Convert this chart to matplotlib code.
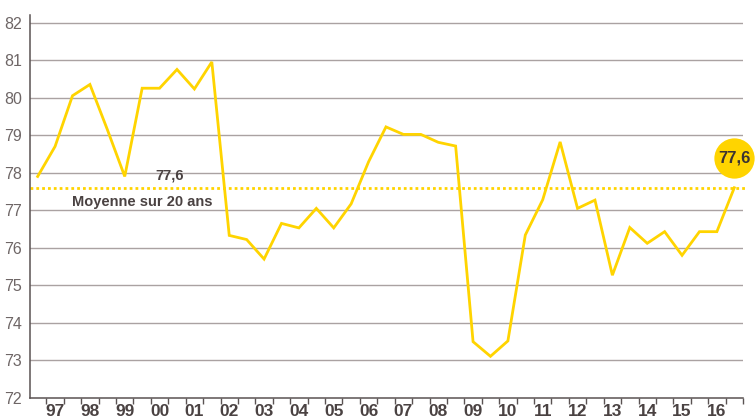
import matplotlib.pyplot as plt
import matplotlib.transforms as mtransforms
import numpy as np

plt.rcParams['font.family'] = ['Liberation Sans', 'DejaVu Sans']

# semestrial values, 1996 H2 -> 2016 H2
values = [77.9, 78.7, 80.05, 80.35, 79.15, 77.9, 80.25, 80.25, 80.75, 80.23,
          80.95, 76.33, 76.22, 75.7, 76.65, 76.53, 77.05, 76.53, 77.17, 78.29,
          79.22, 79.02, 79.02, 78.81, 78.71, 73.5, 73.11, 73.52, 76.34, 77.28,
          78.82, 77.05, 77.27, 75.27, 76.54, 76.12, 76.43, 75.8, 76.43, 76.43,
          77.6]
year_labels = ['97', '98', '99', '00', '01', '02', '03', '04', '05', '06',
               '07', '08', '09', '10', '11', '12', '13', '14', '15', '16']
mean_value = 77.6
mean_label = '77,6'
mean_text = 'Moyenne sur 20 ans'
last_label = '77,6'

yellow = '#FFD400'
dark = '#4a4242'
grid = '#aaa2a2'

fig = plt.figure(figsize=(7.55, 4.2), dpi=100)
ax = fig.add_axes([30 / 755, 22 / 420, 713 / 755, 383 / 420])

x = np.arange(len(values))
ax.set_xlim(-0.44, len(values) - 0.54)
ax.set_ylim(72, 82.2)

for v in range(73, 83):
    ax.axhline(v, color=grid, lw=1.0, zorder=1)

ax.plot([ax.get_xlim()[0], len(values) - 0.4], [mean_value, mean_value],
        color=yellow, lw=2.0, dashes=(1.0, 1.1), zorder=2, clip_on=False)
ax.plot(x, values, color=yellow, lw=2.0, zorder=3, solid_joinstyle='miter')

# end marker: circle above the last point
off = mtransforms.offset_copy(ax.transData, fig=fig, x=0, y=21.6, units='points')
ax.plot([x[-1]], [values[-1]], 'o', ms=29, color=yellow, mec='none',
        transform=off, clip_on=False, zorder=5)
ax.text(x[-1], values[-1], last_label, transform=off, ha='center', va='center',
        fontsize=12, fontweight='bold', color='#3a3333', zorder=6)

ax.text(7.6, mean_value + 0.15, mean_label, ha='center', va='bottom',
        fontsize=10.5, fontweight='bold', color=dark)
ax.text(6.0, mean_value - 0.2, mean_text, ha='center', va='top',
        fontsize=10.5, fontweight='bold', color=dark)

for s in ['top', 'right']:
    ax.spines[s].set_visible(False)
for s in ['left', 'bottom']:
    ax.spines[s].set_color('#5a5252')
    ax.spines[s].set_linewidth(1.1)

ax.set_yticks(range(72, 83))
ax.tick_params(axis='y', length=0, pad=6, labelsize=11.5, labelcolor='#6e6666')

ax.set_xticks(np.arange(0.5, len(values), 1.0))
ax.set_xticklabels([])
ax.set_xticks(np.arange(1, len(values), 2), labels=year_labels, minor=True)
ax.tick_params(axis='x', which='major', direction='out', length=4.5, width=1,
               color='#5a5252')
ax.tick_params(axis='x', which='minor', length=0, pad=4, labelsize=12.5,
               labelcolor=dark)
for lab in ax.get_xticklabels(minor=True):
    lab.set_fontweight('bold')

fig.savefig('out.png', dpi=100)
